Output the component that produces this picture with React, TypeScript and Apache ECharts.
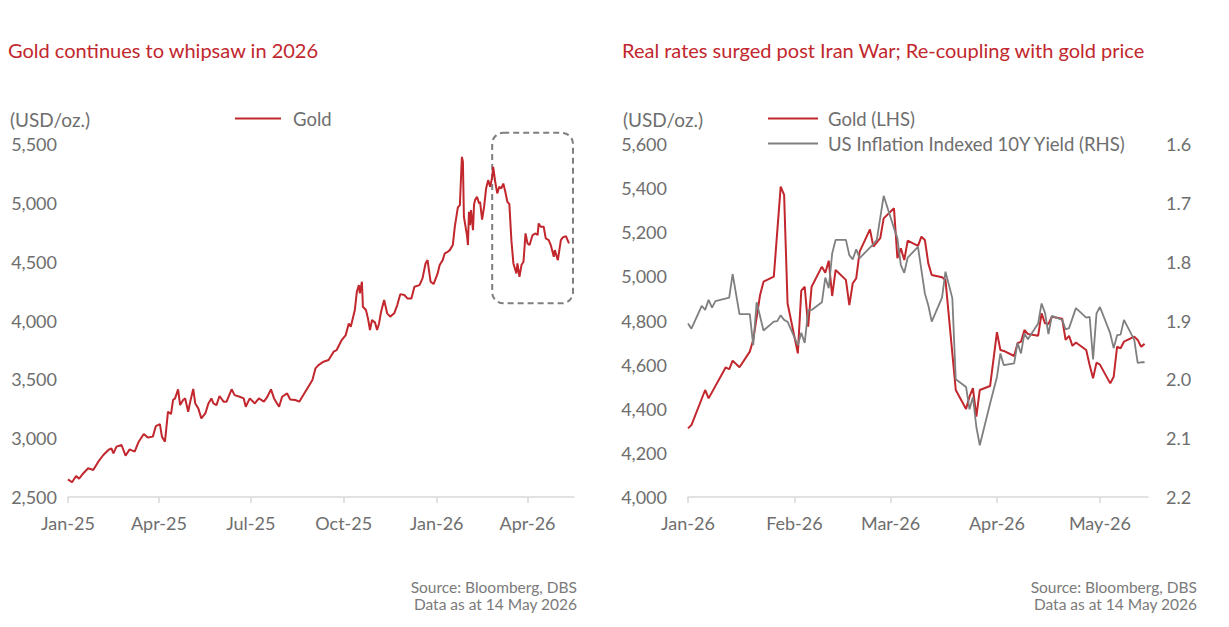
import React, { useEffect, useRef } from "react";
import * as echarts from "echarts";

// ---------------- Data ----------------
// Left chart: Gold price (USD/oz.), Jan-25 to May-26
const leftDates = [
  "2025-01-01","2025-01-05","2025-01-09","2025-01-12","2025-01-16","2025-01-21","2025-01-26","2025-01-31",
  "2025-02-05","2025-02-10","2025-02-13","2025-02-15","2025-02-18","2025-02-23","2025-02-27","2025-03-03",
  "2025-03-08","2025-03-12","2025-03-17","2025-03-21","2025-03-26","2025-03-29","2025-04-02","2025-04-04",
  "2025-04-07","2025-04-10","2025-04-13","2025-04-15","2025-04-17","2025-04-20","2025-04-22","2025-04-25",
  "2025-04-27","2025-04-30","2025-05-02","2025-05-05","2025-05-07","2025-05-10","2025-05-13","2025-05-17",
  "2025-05-20","2025-05-23","2025-05-25","2025-05-28","2025-05-31","2025-06-04","2025-06-07","2025-06-12",
  "2025-06-15","2025-06-20","2025-06-24","2025-06-26","2025-06-30","2025-07-05","2025-07-09","2025-07-14",
  "2025-07-17","2025-07-21","2025-07-24","2025-07-27","2025-07-29","2025-08-01","2025-08-06","2025-08-09",
  "2025-08-14","2025-08-18","2025-08-22","2025-08-27","2025-08-31","2025-09-03","2025-09-06","2025-09-11",
  "2025-09-16","2025-09-21","2025-09-24","2025-09-29","2025-10-03","2025-10-06","2025-10-08","2025-10-12",
  "2025-10-14","2025-10-16","2025-10-17","2025-10-19","2025-10-20","2025-10-23","2025-10-25","2025-10-27",
  "2025-10-29","2025-11-01","2025-11-03","2025-11-05","2025-11-07","2025-11-10","2025-11-13","2025-11-16",
  "2025-11-20","2025-11-23","2025-11-26","2025-11-30","2025-12-03","2025-12-07","2025-12-10","2025-12-15",
  "2025-12-18","2025-12-21","2025-12-23","2025-12-26","2025-12-29","2026-01-02","2026-01-04","2026-01-07",
  "2026-01-09","2026-01-12","2026-01-14","2026-01-17","2026-01-19","2026-01-22","2026-01-24","2026-01-26",
  "2026-01-27","2026-01-28","2026-01-31","2026-02-01","2026-02-02","2026-02-03","2026-02-04","2026-02-06",
  "2026-02-07","2026-02-08","2026-02-10","2026-02-12","2026-02-13","2026-02-15","2026-02-17","2026-02-19",
  "2026-02-21","2026-02-23","2026-02-25","2026-02-26","2026-02-28","2026-03-02","2026-03-04","2026-03-06",
  "2026-03-08","2026-03-10","2026-03-12","2026-03-14","2026-03-16","2026-03-18","2026-03-20","2026-03-21",
  "2026-03-22","2026-03-24","2026-03-26","2026-03-28","2026-03-30","2026-04-01","2026-04-03","2026-04-06",
  "2026-04-09","2026-04-11","2026-04-12","2026-04-14","2026-04-17","2026-04-19","2026-04-22","2026-04-24",
  "2026-04-27","2026-04-28","2026-05-01","2026-05-04","2026-05-06","2026-05-09","2026-05-12",
];
const leftGold = [
  2650, 2625, 2678, 2655, 2700, 2744, 2730, 2800,
  2857, 2900, 2914, 2871, 2928, 2942, 2851, 2905,
  2886, 2970, 3035, 3005, 3013, 3103, 3120, 3013,
  2970, 3225, 3205, 3324, 3338, 3415, 3281, 3324,
  3338, 3225, 3310, 3418, 3295, 3253, 3168, 3211,
  3295, 3338, 3295, 3281, 3358, 3310, 3310, 3415,
  3366, 3352, 3338, 3267, 3338, 3295, 3338, 3310,
  3346, 3415, 3338, 3295, 3267, 3352, 3380, 3329,
  3324, 3310, 3366, 3437, 3494, 3593, 3621, 3650,
  3664, 3735, 3749, 3834, 3876, 3975, 3947, 4089,
  4245, 4301, 4231, 4330, 4117, 4089, 4018, 3919,
  4004, 3982, 3919, 3975, 4075, 4174, 4061, 4033,
  4061, 4131, 4224, 4217, 4188, 4188, 4287, 4301,
  4358, 4485, 4513, 4330, 4310, 4400, 4471, 4513,
  4570, 4584, 4598, 4641, 4797, 4961, 4981, 5391,
  5349, 4882, 4726, 4641, 4924, 4811, 4938, 4768,
  4981, 5023, 5051, 4995, 5009, 4858, 4967, 5122,
  5193, 5136, 5221, 5306, 5179, 5080, 5136, 5122,
  5164, 5094, 5009, 4989, 4683, 4485, 4428, 4400,
  4485, 4371, 4471, 4499, 4740, 4655, 4641, 4726,
  4740, 4726, 4825, 4797, 4797, 4698, 4683, 4641,
  4542, 4598, 4513, 4683, 4706, 4717, 4655,
];
const leftTickDates = ["2025-01-01","2025-04-01","2025-07-01","2025-10-01","2026-01-01","2026-04-01"];
const leftYTicks = [2500, 3000, 3500, 4000, 4500, 5000, 5500];
// Highlight box (dashed) on the left chart
const boxStartDate = "2026-02-25";
const boxEndDate = "2026-05-16";
const boxTopValue = 5595;
const boxBottomValue = 4146;

// Right chart: Gold (LHS) and US Inflation Indexed 10Y Yield (RHS, inverted)
const rightGoldDates = [
  "2026-01-01","2026-01-02","2026-01-06","2026-01-07","2026-01-12","2026-01-13","2026-01-14","2026-01-16",
  "2026-01-19","2026-01-20","2026-01-22","2026-01-23","2026-01-26","2026-01-28","2026-01-29","2026-01-30",
  "2026-02-02","2026-02-03","2026-02-04","2026-02-05","2026-02-06","2026-02-09","2026-02-10","2026-02-11",
  "2026-02-12","2026-02-13","2026-02-16","2026-02-17","2026-02-18","2026-02-19","2026-02-20","2026-02-23",
  "2026-02-24","2026-02-26","2026-02-27","2026-03-02","2026-03-03","2026-03-04","2026-03-05","2026-03-06",
  "2026-03-09","2026-03-10","2026-03-11","2026-03-12","2026-03-13","2026-03-16","2026-03-17","2026-03-20",
  "2026-03-23","2026-03-24","2026-03-25","2026-03-26","2026-03-27","2026-03-30","2026-04-01","2026-04-02",
  "2026-04-03","2026-04-06","2026-04-07","2026-04-08","2026-04-09","2026-04-10","2026-04-13","2026-04-14",
  "2026-04-15","2026-04-16","2026-04-17","2026-04-20","2026-04-21","2026-04-22","2026-04-23","2026-04-24",
  "2026-04-27","2026-04-28","2026-04-29","2026-04-30","2026-05-01","2026-05-04","2026-05-05","2026-05-06",
  "2026-05-07","2026-05-08","2026-05-11","2026-05-12","2026-05-13","2026-05-14",
];
const rightGold = [
  4311, 4326, 4485, 4447, 4588, 4579, 4618, 4588,
  4659, 4712, 4916, 4976, 4999, 5407, 5369, 4878,
  4651, 4935, 4953, 4772, 4953, 5044, 5016, 5071,
  4911, 5029, 4984, 4870, 4969, 4991, 5112, 5213,
  5135, 5173, 5263, 5309, 5082, 5127, 5074, 5162,
  5138, 5180, 5165, 5059, 5006, 4996, 4984, 4485,
  4399, 4455, 4493, 4364, 4485, 4503, 4747, 4666,
  4662, 4639, 4697, 4704, 4757, 4739, 4731, 4833,
  4787, 4784, 4817, 4808, 4712, 4730, 4685, 4700,
  4666, 4598, 4538, 4609, 4600, 4515, 4545, 4681,
  4674, 4704, 4727, 4712, 4681, 4694,
];
const yieldDates = [
  "2026-01-01","2026-01-02","2026-01-05","2026-01-06","2026-01-07","2026-01-08","2026-01-09","2026-01-13",
  "2026-01-14","2026-01-16","2026-01-19","2026-01-20","2026-01-21","2026-01-23","2026-01-26","2026-01-27",
  "2026-01-28","2026-01-29","2026-01-30","2026-02-02","2026-02-03","2026-02-04","2026-02-05","2026-02-06",
  "2026-02-09","2026-02-10","2026-02-11","2026-02-12","2026-02-13","2026-02-16","2026-02-17","2026-02-18",
  "2026-02-19","2026-02-20","2026-02-24","2026-02-25","2026-02-27","2026-03-02","2026-03-03","2026-03-04",
  "2026-03-05","2026-03-06","2026-03-09","2026-03-11","2026-03-12","2026-03-13","2026-03-16","2026-03-17",
  "2026-03-19","2026-03-20","2026-03-23","2026-03-24","2026-03-25","2026-03-26","2026-03-27","2026-03-30",
  "2026-04-01","2026-04-02","2026-04-03","2026-04-06","2026-04-07","2026-04-08","2026-04-09","2026-04-10",
  "2026-04-13","2026-04-14","2026-04-15","2026-04-16","2026-04-17","2026-04-20","2026-04-21","2026-04-22",
  "2026-04-24","2026-04-27","2026-04-28","2026-04-29","2026-04-30","2026-05-01","2026-05-04","2026-05-05",
  "2026-05-06","2026-05-07","2026-05-08","2026-05-11","2026-05-12","2026-05-13","2026-05-14",
];
const yieldValues = [
  1.905, 1.914, 1.875, 1.882, 1.865, 1.878, 1.867, 1.861,
  1.821, 1.889, 1.889, 1.942, 1.869, 1.917, 1.902, 1.901,
  1.891, 1.899, 1.902, 1.942, 1.921, 1.938, 1.883, 1.882,
  1.869, 1.827, 1.845, 1.786, 1.763, 1.763, 1.789, 1.796,
  1.779, 1.794, 1.770, 1.763, 1.688, 1.743, 1.760, 1.806,
  1.819, 1.793, 1.775, 1.854, 1.874, 1.902, 1.861, 1.817,
  1.862, 2.000, 2.013, 2.051, 2.030, 2.081, 2.112, 2.041,
  1.996, 1.956, 1.976, 1.973, 1.938, 1.956, 1.922, 1.932,
  1.905, 1.871, 1.887, 1.923, 1.892, 1.899, 1.915, 1.913,
  1.879, 1.895, 1.894, 1.966, 1.888, 1.877, 1.922, 1.947,
  1.925, 1.924, 1.899, 1.933, 1.972, 1.971, 1.971,
];
const rightTickDates = ["2026-01-01","2026-02-01","2026-03-01","2026-04-01","2026-05-01"];

// ---------------- Helpers ----------------
const ts = (s: string) => {
  const [y, m, d] = s.split("-").map(Number);
  return Date.UTC(y, m - 1, d);
};
const MONTHS = ["Jan","Feb","Mar","Apr","May","Jun","Jul","Aug","Sep","Oct","Nov","Dec"];
const fmtMonth = (v: number) => {
  const dt = new Date(v);
  return MONTHS[dt.getUTCMonth()] + "-" + String(dt.getUTCFullYear()).slice(2);
};
const fmtThousands = (v: number) => Math.round(v).toLocaleString("en-US");

const FONT = "Lato, 'Noto Sans', 'DejaVu Sans', sans-serif";
const RED = "#c1272d";
const GRAY_LINE = "#7f7f7f";
const LABEL = "#6e6e6e";
const AXIS = "#d9d9d9";

export default function App() {
  const ref = useRef<HTMLDivElement>(null);

  useEffect(() => {
    document.body.style.margin = "0";
    if (!ref.current) return;
    const chart = echarts.init(ref.current, undefined, { renderer: "svg" });

    const xAxisCommon = (ticks: string[], min: string, max: string, gridIndex: number) => ({
      type: "value" as const,
      gridIndex,
      min: ts(min),
      max: ts(max),
      axisLine: { show: true, onZero: false, lineStyle: { color: AXIS, width: 1.5 } },
      axisTick: {
        show: true,
        customValues: ticks.map(ts),
        length: 6,
        lineStyle: { color: AXIS, width: 1.5 },
      },
      axisLabel: {
        customValues: ticks.map(ts),
        formatter: fmtMonth,
        color: LABEL,
        fontSize: 18,
        fontFamily: FONT,
        margin: 17,
      },
      splitLine: { show: false },
    });

    const yLabel = (margin: number, formatter: (v: number) => string) => ({
      color: LABEL,
      fontSize: 18,
      fontFamily: FONT,
      margin,
      formatter,
    });

    const legendText = { color: LABEL, fontSize: 18.5, fontFamily: FONT };

    const option: any = {
      animation: false,
      textStyle: { fontFamily: FONT },
      grid: [
        { left: 68, top: 144, width: 506, height: 353 },
        { left: 688, top: 144, width: 460, height: 353 },
      ],
      xAxis: [
        xAxisCommon(leftTickDates, "2025-01-01", "2026-05-17", 0),
        xAxisCommon(rightTickDates, "2026-01-01", "2026-05-15", 1),
      ],
      yAxis: [
        {
          type: "value",
          gridIndex: 0,
          min: leftYTicks[0],
          max: leftYTicks[leftYTicks.length - 1],
          interval: 500,
          axisLine: { show: false },
          axisTick: { show: false },
          splitLine: { show: false },
          axisLabel: yLabel(11, fmtThousands),
        },
        {
          type: "value",
          gridIndex: 1,
          min: 4000,
          max: 5600,
          interval: 200,
          axisLine: { show: false },
          axisTick: { show: false },
          splitLine: { show: false },
          axisLabel: yLabel(21, fmtThousands),
        },
        {
          type: "value",
          gridIndex: 1,
          position: "right",
          inverse: true,
          min: 1.6,
          max: 2.2,
          interval: 0.1,
          axisLine: { show: false },
          axisTick: { show: false },
          splitLine: { show: false },
          axisLabel: yLabel(18, (v: number) => v.toFixed(1)),
        },
      ],
      legend: [
        {
          data: ["Gold"],
          left: 235,
          top: 109,
          padding: 0,
          icon: "rect",
          itemWidth: 46,
          itemHeight: 2,
          selectedMode: false,
          textStyle: { ...legendText, padding: [0, 0, 0, 7] },
        },
        {
          data: ["Gold (LHS)", "US Inflation Indexed 10Y Yield (RHS)"],
          left: 768,
          top: 109,
          padding: 0,
          orient: "vertical",
          itemGap: 6,
          icon: "rect",
          itemWidth: 50,
          itemHeight: 2,
          selectedMode: false,
          textStyle: { ...legendText, padding: [0, 0, 0, 5] },
        },
      ],
      series: [
        {
          name: "Gold",
          type: "line",
          xAxisIndex: 0,
          yAxisIndex: 0,
          data: leftDates.map((d, i) => [ts(d), leftGold[i]]),
          showSymbol: false,
          lineStyle: { color: RED, width: 2 },
          itemStyle: { color: RED },
        },
        {
          name: "Gold (LHS)",
          type: "line",
          xAxisIndex: 1,
          yAxisIndex: 1,
          data: rightGoldDates.map((d, i) => [ts(d), rightGold[i]]),
          showSymbol: false,
          lineStyle: { color: RED, width: 2 },
          itemStyle: { color: RED },
        },
        {
          name: "US Inflation Indexed 10Y Yield (RHS)",
          type: "line",
          xAxisIndex: 1,
          yAxisIndex: 2,
          data: yieldDates.map((d, i) => [ts(d), yieldValues[i]]),
          showSymbol: false,
          lineStyle: { color: GRAY_LINE, width: 1.8 },
          itemStyle: { color: GRAY_LINE },
        },
      ],
    };

    chart.setOption(option);

    const p1 = chart.convertToPixel({ gridIndex: 0 } as any, [ts(boxStartDate), boxTopValue]) as number[];
    const p2 = chart.convertToPixel({ gridIndex: 0 } as any, [ts(boxEndDate), boxBottomValue]) as number[];

    const text = (t: string, x: number, y: number, size: number, fill: string, align = "left") => ({
      type: "text",
      x,
      y,
      silent: true,
      style: {
        text: t,
        fill,
        fontSize: size,
        fontFamily: FONT,
        align,
        textAlign: align,
        verticalAlign: "middle",
        textVerticalAlign: "middle",
      },
    });

    chart.setOption({
      graphic: {
        elements: [
          text("Gold continues to whipsaw in 2026", 8, 50, 20, RED),
          text("Real rates surged post Iran War; Re-coupling with gold price", 622, 50, 20, RED),
          text("(USD/oz.)", 10, 119, 19, LABEL),
          text("(USD/oz.)", 623, 119, 19, LABEL),
          text("Source: Bloomberg, DBS", 577, 587, 15.5, "#7a7a7a", "right"),
          text("Data as at 14 May 2026", 577, 604, 15.5, "#7a7a7a", "right"),
          text("Source: Bloomberg, DBS", 1197, 587, 15.5, "#7a7a7a", "right"),
          text("Data as at 14 May 2026", 1197, 604, 15.5, "#7a7a7a", "right"),
          {
            type: "rect",
            silent: true,
            shape: {
              x: p1[0],
              y: p1[1],
              width: p2[0] - p1[0],
              height: p2[1] - p1[1],
              r: 11,
            },
            style: { fill: "none", stroke: "#7f7f7f", lineWidth: 2, lineDash: [6, 4] },
          },
        ],
      },
    });

    return () => {
      chart.dispose();
    };
  }, []);

  return <div ref={ref} style={{ width: 1229, height: 627 }} />;
}
